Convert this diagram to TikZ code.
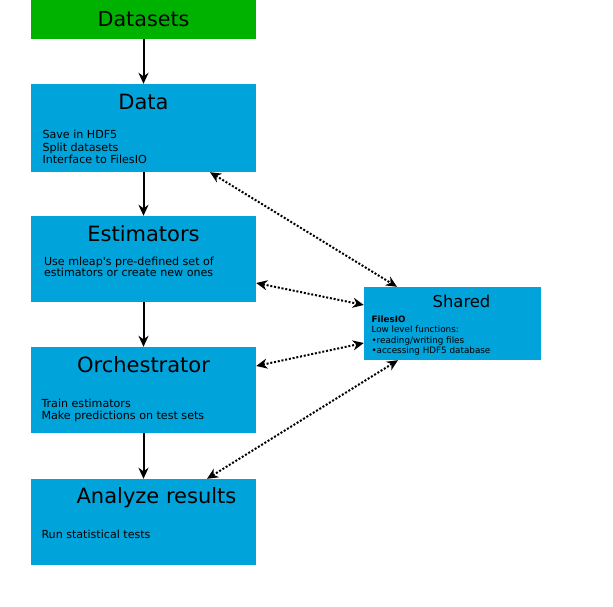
\documentclass[tikz,border=0pt]{standalone}
\usepackage{fontspec}
\setmainfont{DejaVu Sans}
\usepackage{xcolor}
\usepackage{tikz}
\usetikzlibrary{arrows.meta, positioning}
\definecolor{boxblue}{RGB}{0,163,218}
\definecolor{boxgreen}{RGB}{0,178,0}
\tikzstyle{block} = [rectangle, minimum width=225pt, minimum height=86pt, inner sep=0pt, fill=boxblue]
\tikzstyle{title} = [anchor=base, inner sep=0pt, font=\fontsize{21}{25}\selectfont]
\tikzstyle{body} = [anchor=base west, inner sep=0pt, align=left, font=\fontsize{11.1}{12.5}\selectfont]
\tikzstyle{arrow} = [line width=2pt, -{Stealth[length=11pt, width=10pt, inset=3.5pt]}]
\tikzstyle{link} = [line width=2pt, dash pattern=on 2pt off 1.8pt, {Stealth[length=11pt, width=10pt, inset=3.5pt]}-{Stealth[length=11pt, width=10pt, inset=3.5pt]}]
\begin{document}
\begin{tikzpicture}[node distance = 131pt]
    \useasboundingbox (0,0) rectangle (613pt,-607pt);
    \node (datasets) [block, fill=boxgreen, minimum height=39pt, font=\fontsize{20.7}{25}\selectfont] at (143.5pt,-19.5pt) {Datasets};
    \node (data) [block, below of=datasets, yshift=22.5pt, minimum height=88pt] {};
    \node (estim) [block, below of=data] {};
    \node (orch) [block, below of=estim] {};
    \node (analyze) [block, below of=orch, yshift=-1pt] {};
    \node (shared) [block, minimum width=177pt, minimum height=73pt] at (452.5pt,-323.5pt) {};
    \node (datat) [title] at ([yshift=-26pt]data.north) {Data};
    \node (datab) [body] at ([xshift=11.5pt, yshift=-80pt]data.north west) {Save in HDF5\\Split datasets\\Interface to FilesIO};
    \node (estimt) [title] at ([yshift=-26pt]estim.north) {Estimators};
    \node (estimb) [body, font=\fontsize{11.1}{11.8}\selectfont] at ([xshift=13pt, yshift=-61pt]estim.north west) {Use mleap\textquotesingle s pre-defined set of\\estimators or create new ones};
    \node (orcht) [title] at ([yshift=-26pt]orch.north) {Orchestrator};
    \node (orchb) [body] at ([xshift=10.5pt, yshift=-73pt]orch.north west) {Train estimators\\Make predictions on test sets};
    \node (analyzet) [title] at ([xshift=13pt, yshift=-25pt]analyze.north) {Analyze results};
    \node (analyzeb) [body] at ([xshift=10.5pt, yshift=-60pt]analyze.north west) {Run statistical tests};
    \node (sharedt) [title, font=\fontsize{16.4}{20}\selectfont] at ([xshift=9pt, yshift=-20.7pt]shared.north) {Shared};
    \node (sharedb) [body, font=\fontsize{8.8}{10.5}\selectfont] at ([xshift=7.5pt, yshift=-67pt]shared.north west) {\textbf{FilesIO}\\Low level functions:\\•reading/writing files\\•accessing HDF5 database};
    \draw [arrow] (datasets) -- (data);
    \draw [arrow] (data) -- (estim);
    \draw [arrow] (estim) -- (orch);
    \draw [arrow] (orch) -- (analyze);
    \draw [link] ([xshift=66.5pt]data.south) -- ([xshift=-55.5pt]shared.north);
    \draw [link] ([yshift=-24pt]estim.east) -- ([yshift=18.5pt]shared.west);
    \draw [link] ([yshift=24pt]orch.east) -- ([yshift=-19.5pt]shared.west);
    \draw [link] ([xshift=63.5pt]analyze.north) -- ([xshift=-54.5pt]shared.south);
\end{tikzpicture}
\end{document}
